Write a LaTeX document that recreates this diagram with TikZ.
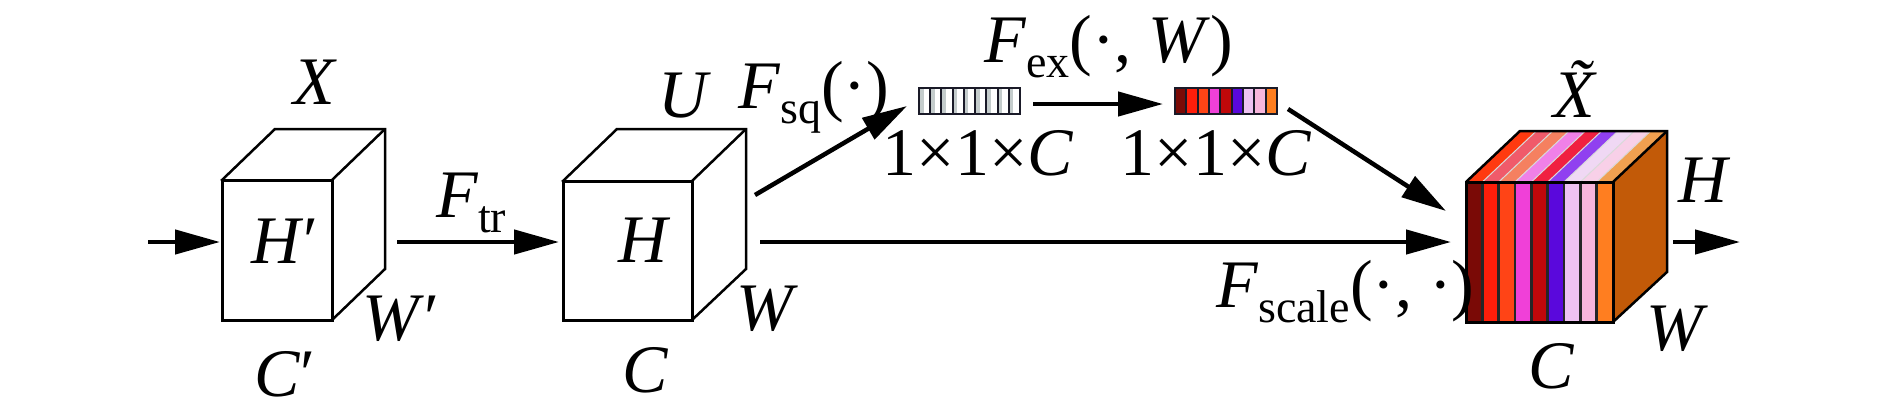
\documentclass[tikz,border=0pt]{standalone}
\usepackage{fontspec}
\setmainfont{Liberation Serif}
\usetikzlibrary{arrows.meta}
\newcommand\mysubs[1]{\raisebox{-15pt}{\fontsize{46}{46}\selectfont #1}}
\definecolor{fa}{HTML}{7A0A06}
\definecolor{fb}{HTML}{FF1E0A}
\definecolor{fc}{HTML}{FF4416}
\definecolor{fd}{HTML}{F040D8}
\definecolor{fe}{HTML}{C0080A}
\definecolor{ff}{HTML}{5A08DC}
\definecolor{fg}{HTML}{EEC2F2}
\definecolor{fh}{HTML}{F8B6DC}
\definecolor{fi}{HTML}{FF7E20}
\definecolor{ta}{HTML}{FF3A10}
\definecolor{tb}{HTML}{F05A6A}
\definecolor{tc}{HTML}{F58060}
\definecolor{td}{HTML}{F080E8}
\definecolor{te}{HTML}{F02040}
\definecolor{tf}{HTML}{9040F0}
\definecolor{tg}{HTML}{F0D8F4}
\definecolor{th}{HTML}{F8D0E8}
\definecolor{ti}{HTML}{F0A050}
\definecolor{sideface}{HTML}{C25A08}
\definecolor{cellgray}{HTML}{C4CCCC}
\definecolor{celledge}{HTML}{1A1A28}
\begin{document}
\begin{tikzpicture}[x=1pt,y=-1pt,
  lbl/.style={inner sep=0pt, outer sep=0pt, anchor=base, font=\fontsize{68}{80}\selectfont},
  lblw/.style={lbl, anchor=base west},
  arr/.style={line width=4.5pt, -{Triangle[length=45pt,width=24pt]}},
  frontedge/.style={line width=3pt, line join=miter},
  backedge/.style={line width=2.5pt, line join=miter},
  celldraw/.style={line width=2pt, draw=celledge}
]
\useasboundingbox (0,0) rectangle (1890,418);
\fill[white] (0,0) rectangle (1890,418);

% ---------- cube 1 (X) ----------
\filldraw[backedge, fill=white] (222,180) -- (275,129) -- (385,129) -- (385,269) -- (332,320) -- cycle;
\draw[backedge] (332,180) -- (385,129);
\filldraw[frontedge, fill=white] (222,180) rectangle (332,320);
\coordinate (c1w) at (220,242);
\coordinate (c1e) at (397,242);
\coordinate (inp) at (148,242);

% ---------- cube 2 (U) ----------
\filldraw[backedge, fill=white] (563,181) -- (617,129) -- (746,129) -- (746,269) -- (692,320) -- cycle;
\draw[backedge] (692,181) -- (746,129);
\filldraw[frontedge, fill=white] (563,181) rectangle (692,320);
\coordinate (c2w) at (559,242);
\coordinate (c2e) at (760,242);
\coordinate (c2ne) at (755,195);

% ---------- squeeze bar ----------
\foreach \i in {0,...,8} {
  \fill[white] ({919+\i*11.22},88) rectangle ({919+(\i+1)*11.22},114);
  \fill[cellgray] ({919+\i*11.22+1},88) rectangle ({919+\i*11.22+4.5},114);
  \draw[celldraw] ({919+\i*11.22},88) -- ({919+\i*11.22},114);
}
\draw[celldraw] (919,88) rectangle (1020,114);
\coordinate (b1w) at (907,106);
\coordinate (b1e) at (1033,104);

% ---------- excitation bar ----------
\foreach \c [count=\i from 0] in {fa,fb,fc,fd,fe,ff,fg,fh,fi} {
  \fill[\c] ({1175+\i*11.33},88) rectangle ({1175+(\i+1)*11.33},114);
  \draw[celldraw] ({1175+\i*11.33},88) -- ({1175+\i*11.33},114);
}
\draw[celldraw] (1175,88) rectangle (1277,114);
\coordinate (b2w) at (1163,104);
\coordinate (b2e) at (1288,109);

% ---------- cube 3 (X tilde) ----------
\fill[sideface] (1613,182) -- (1667,131) -- (1667,272) -- (1613,322) -- cycle;
\foreach \c [count=\i from 0] in {ta,tb,tc,td,te,tf,tg,th,ti} {
  \fill[\c] ({1466+\i*16.333},182) -- ++(54,-51) -- ++(16.333,0) -- ++(-54,51) -- cycle;
}
\foreach \i in {1,...,8} {
  \draw[line width=1pt, white!70!gray] ({1466+\i*16.333},182) -- ++(54,-51);
}
\foreach \c [count=\i from 0] in {fa,fb,fc,fd,fe,ff,fg,fh,fi} {
  \fill[\c] ({1466+\i*16.333},182) rectangle ({1466+(\i+1)*16.333},322);
}
\foreach \i in {1,...,8} {
  \draw[line width=2.5pt, black!85] ({1466+\i*16.333},182) -- ({1466+\i*16.333},322);
}
\draw[backedge] (1466,182) -- (1520,131) -- (1667,131) -- (1667,272) -- (1613,322);
\draw[backedge] (1613,182) -- (1667,131);
\draw[frontedge] (1466,182) rectangle (1613,322);
\coordinate (c3w) at (1451,242);
\coordinate (c3nw) at (1446,211);
\coordinate (c3e) at (1673,242);
\coordinate (outp) at (1740,242);

% ---------- connectors ----------
\draw[arr] (inp) -- (c1w);
\draw[arr] (c1e) -- (c2w);
\draw[arr] (c2ne) -- (b1w);
\draw[arr] (b1e) -- (b2w);
\draw[arr] (b2e) -- (c3nw);
\draw[arr] (c2e) -- (c3w);
\draw[arr] (c3e) -- (outp);

% ---------- labels ----------
\node[lbl] (lX) at (315,104) {\textit{X}};
\node[lbl] (lHp) at (285,263) {\textit{H}′};
\node[lbl] (lWp) at (401,340) {\textit{W}′};
\node[lbl] (lCp) at (285,396) {\textit{C}′};
\node[lblw] (lFtr) at (436,217) {\textit{F}\mysubs{tr}};
\node[lbl] (lU) at (685,117) {\textit{U}};
\node[lbl] (lH) at (645,262) {\textit{H}};
\node[lbl] (lW) at (767,330) {\textit{W}};
\node[lbl] (lC) at (645,392) {\textit{C}};
\node[lblw] (lFsq) at (738,108) {\textit{F}\mysubs{sq}(·)};
\node[lbl] (lsz1) at (978,175) {1×1×\textit{C}};
\node[lblw] (lFex) at (984,62) {\textit{F}\mysubs{ex}(·, \textit{W})};
\node[lbl] (lsz2) at (1216,175) {1×1×\textit{C}};
\node[lbl] (lXt) at (1588,117) {\textit{\~{X}}};
\node[lbl] (lH3) at (1705,202) {\textit{H}};
\node[lblw] (lFsc) at (1216,307) {\textit{F}\mysubs{scale}(·, ·)};
\node[lbl] (lC3) at (1551,388) {\textit{C}};
\node[lbl] (lW3) at (1677,350) {\textit{W}};
\end{tikzpicture}
\end{document}
